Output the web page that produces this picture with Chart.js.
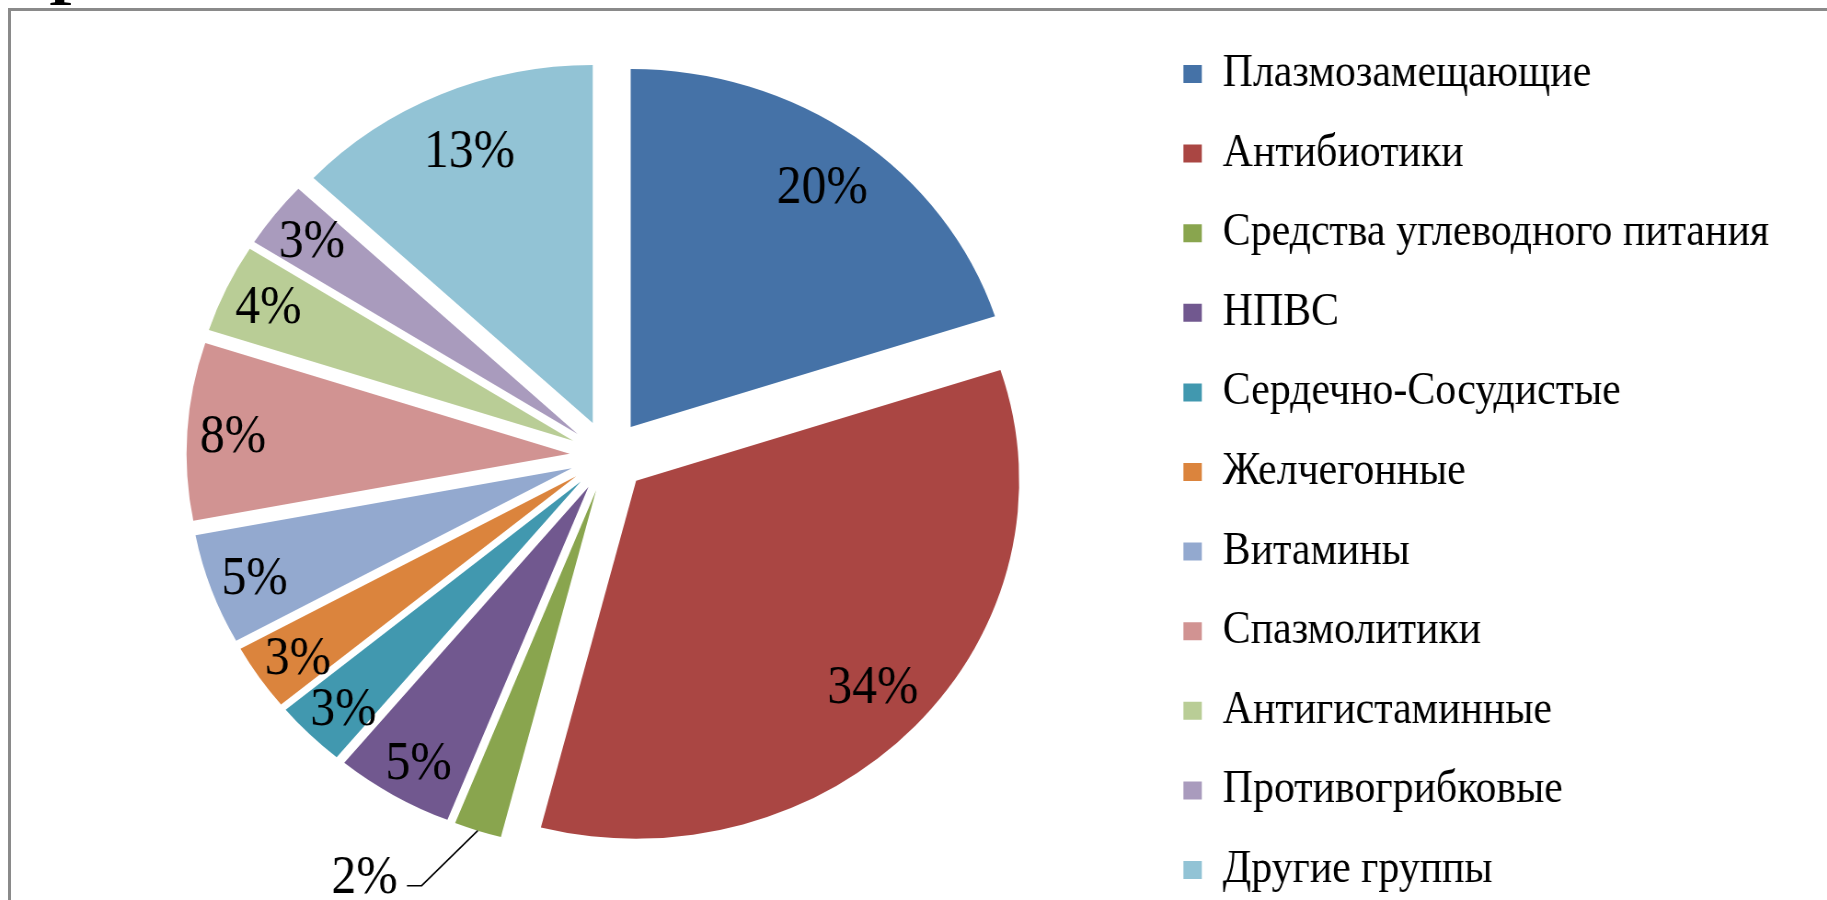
<!DOCTYPE html>
<html>
<head>
<meta charset="utf-8">
<script src="https://cdn.jsdelivr.net/npm/chart.js@4.4.1/dist/chart.umd.min.js"></script>
<style>
    html, body { margin: 0; padding: 0; width: 1827px; height: 900px; overflow: hidden; background: #fff; }
    #frame { position: absolute; left: 8px; top: 8px; width: 1900px; height: 1000px; border: 3px solid #8a8a8a; }
    #cut { position: absolute; left: 49px; top: -45px; font: bold 60px "Liberation Serif"; line-height: 60px; color: #000; }
    /* text on the slide is a bit condensed, so the canvas is squeezed and the pie stretched back */
    #wrap { position: absolute; left: 0; top: -40px; width: 1986px; height: 1000px; transform: scaleX(0.92); transform-origin: 0 0; }
</style>
</head>
<body>
<div id="frame"></div>
<div id="cut">Р</div>
<div id="wrap"><canvas id="drugChart"></canvas></div>
<script>
// Groups of drugs and their shares, %
var categories = [
    'Плазмозамещающие',
    'Антибиотики',
    'Средства углеводного питания',
    'НПВС',
    'Сердечно-Сосудистые',
    'Желчегонные',
    'Витамины',
    'Спазмолитики',
    'Антигистаминные',
    'Противогрибковые',
    'Другие группы'
];
var shares = [20, 34, 2, 5, 3, 3, 5, 8, 4, 3, 13];
var sliceColors = [
    '#4572A7', '#AA4643', '#89A54E', '#71588F', '#4198AF', '#DB843D',
    '#93A9CF', '#D19392', '#B9CD96', '#A99BBD', '#92C3D5'
];

var pieStretch = 1.07 / 0.92;   // horizontal stretch of the pie inside the squeezed canvas
var explode = 36;               // distance every slice is pulled out
var legendFont = 45.5;
var legendPad = 34.1;
var legendBox = 20;

function chartCenterX(chart) {
    return (chart.chartArea.left + chart.chartArea.right) / 2;
}

// Pulls slices out from the center and draws the "NN%" labels.
var explodedPie = {
    id: 'explodedPie',
    afterDatasetsUpdate: function(chart) {
        var cx = chartCenterX(chart);
        var cy = (chart.chartArea.top + chart.chartArea.bottom) / 2;
        chart.getDatasetMeta(0).data.forEach(function(arc) {
            var mid = (arc.startAngle + arc.endAngle) / 2;
            arc.x = cx + Math.cos(mid) * explode;
            arc.y = cy + Math.sin(mid) * explode;
        });
    },
    beforeDatasetsDraw: function(chart) {
        var ctx = chart.ctx;
        var cx = chartCenterX(chart);
        ctx.save();
        ctx.translate(cx, 0);
        ctx.scale(pieStretch, 1);
        ctx.translate(-cx, 0);
    },
    afterDatasetsDraw: function(chart) {
        var ctx = chart.ctx;
        ctx.restore();
        var cx = chartCenterX(chart);
        ctx.save();
        ctx.fillStyle = '#000';
        ctx.strokeStyle = '#000';
        ctx.lineWidth = 1.6;
        ctx.font = '54px "Liberation Serif"';
        ctx.textBaseline = 'middle';
        chart.getDatasetMeta(0).data.forEach(function(arc, i) {
            var mid = (arc.startAngle + arc.endAngle) / 2;
            var text = shares[i] + '%';
            var frac = shares[i] < 3 ? 1 : (shares[i] >= 10 ? 0.835 : 0.89);
            var px = cx + pieStretch * (arc.x - cx + Math.cos(mid) * arc.outerRadius * frac);
            var py = arc.y + Math.sin(mid) * arc.outerRadius * frac;
            if (shares[i] < 3) {
                var ex = px - 61, ey = py + 55;
                ctx.beginPath();
                ctx.moveTo(px, py);
                ctx.lineTo(ex, ey);
                ctx.lineTo(ex - 16, ey);
                ctx.stroke();
                ctx.textAlign = 'right';
                ctx.fillText(text, ex - 26, ey - 7);
            } else {
                ctx.textAlign = 'center';
                ctx.fillText(text, px + 4, py + 4);
            }
        });
        ctx.restore();
    }
};

var canvas = document.getElementById('drugChart');
var ctx = canvas.getContext('2d');

// Legend width from the longest label, so its box does not clip text.
ctx.font = legendFont + 'px "Liberation Serif"';
var longest = 0;
categories.forEach(function(c) {
    longest = Math.max(longest, ctx.measureText(c).width);
});
var legendWidth = Math.ceil(legendPad + legendBox + legendFont / 2 + longest + 1);
var legendLeft = 1252.2;
var chartWidth = 1986;

var chart = new Chart(ctx, {
    type: 'pie',
    data: {
        labels: categories,
        datasets: [{
            data: shares,
            backgroundColor: sliceColors,
            borderWidth: 0
        }]
    },
    options: {
        responsive: true,
        maintainAspectRatio: false,
        animation: false,
        radius: 358,
        layout: { padding: { left: 69.6, right: chartWidth - legendLeft - legendWidth, top: 0, bottom: 8 } },
        plugins: {
            tooltip: { enabled: false },
            legend: {
                position: 'right',
                align: 'center',
                maxWidth: legendWidth,
                title: { display: true, text: ' ', font: { size: 32, lineHeight: 1 }, padding: 0 },
                labels: {
                    color: '#000',
                    font: { family: '"Liberation Serif"', size: legendFont },
                    boxWidth: legendBox,
                    boxHeight: 18,
                    padding: legendPad
                }
            }
        }
    },
    plugins: [explodedPie]
});
</script>
</body>
</html>
